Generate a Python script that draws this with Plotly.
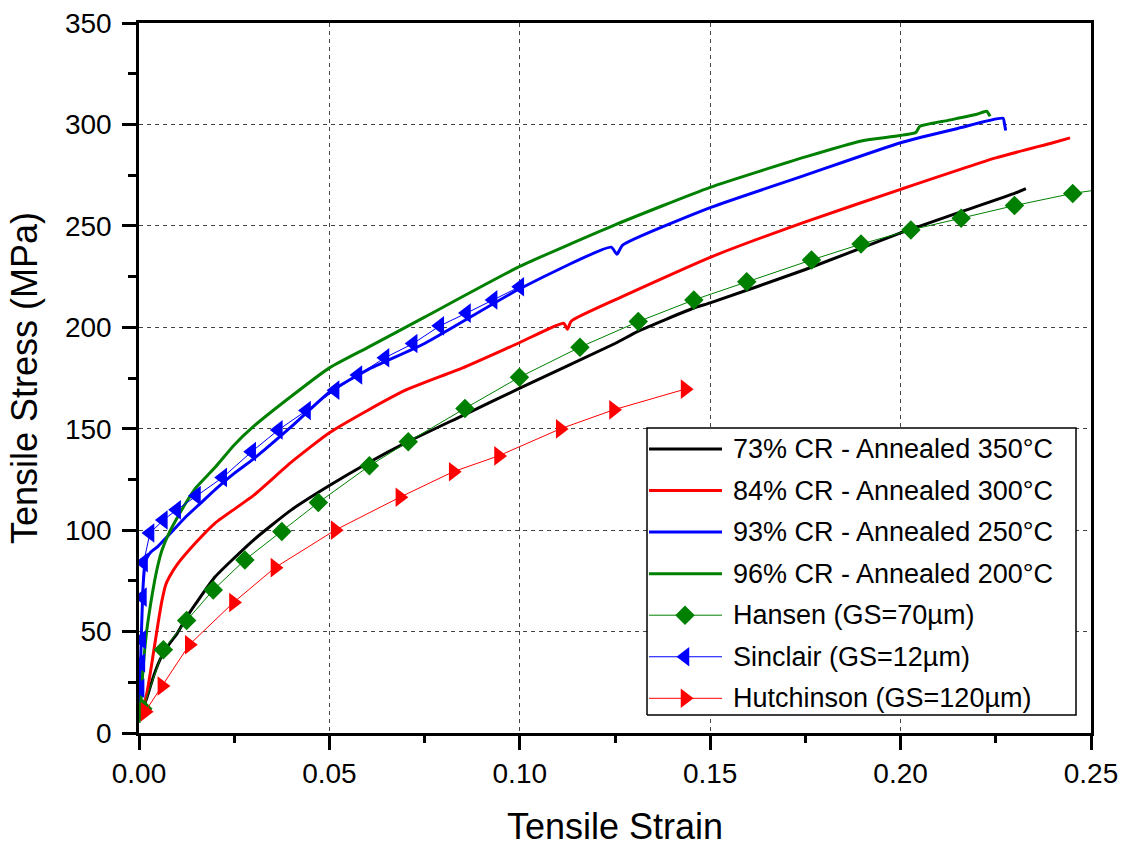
import plotly.graph_objects as go

# ---- experimental curves (strain, stress MPa) ----
cr73_x = [0, 0.001, 0.002, 0.004, 0.006, 0.008, 0.010, 0.0125, 0.015, 0.020, 0.030, 0.040, 0.050,
          0.060, 0.070, 0.085, 0.100, 0.125, 0.131, 0.1457, 0.150, 0.175, 0.200, 0.216, 0.2299, 0.2329]
cr73_y = [8, 12, 17, 29, 38, 44, 49, 57, 64, 77, 95, 110, 122,
          133, 143, 156.5, 170, 192, 198, 209.5, 212, 228.5, 246.5, 257, 266, 268.4]

cr84_x = [0, 0.001, 0.002, 0.003, 0.004, 0.005, 0.006, 0.007, 0.008, 0.010, 0.015, 0.020, 0.030,
          0.040, 0.050, 0.060, 0.070, 0.085, 0.100, 0.1115, 0.1125, 0.1135, 0.125, 0.150, 0.175,
          0.200, 0.225, 0.240, 0.2445]
cr84_y = [6, 12, 19, 30, 42, 54, 65, 73, 77, 83, 94, 103.5, 117,
          133.5, 148, 159, 169, 180, 192.5, 202, 199, 203, 213.5, 234.5, 252,
          268, 283.5, 291, 293.4]

cr93_x = [0, 0.0005, 0.001, 0.0015, 0.002, 0.003, 0.005, 0.007, 0.009, 0.012, 0.016, 0.020, 0.025,
          0.030, 0.040, 0.050, 0.060, 0.075, 0.100, 0.124, 0.1255, 0.127, 0.150, 0.175, 0.200,
          0.215, 0.2269, 0.2273, 0.2276]
cr93_y = [8, 40, 70, 82, 86, 89, 92, 96, 100, 106, 113, 120, 128,
          135, 151, 168, 179, 192, 219, 239.5, 236, 240.5, 259, 275, 291,
          298, 303, 300, 297]

cr96_x = [0, 0.0005, 0.001, 0.002, 0.003, 0.004, 0.005, 0.006, 0.008, 0.010, 0.0125, 0.015, 0.020,
          0.025, 0.030, 0.040, 0.050, 0.060, 0.075, 0.100, 0.125, 0.150, 0.175, 0.190, 0.204,
          0.205, 0.2125, 0.220, 0.2226, 0.2235]
cr96_y = [5, 15, 30, 50, 63, 74, 83, 90, 99, 106, 114, 121, 131,
          142, 151, 166, 180, 190, 205, 230, 250.5, 269, 284, 292, 296,
          299, 302, 305, 306.5, 304]

# ---- literature data ----
hansen_x = [0.001, 0.0064, 0.0125, 0.0195, 0.0278, 0.0375, 0.0471, 0.0605, 0.0707, 0.0856, 0.0999,
            0.1158, 0.1311, 0.1457, 0.1596, 0.1766, 0.1896, 0.2027, 0.2159, 0.2299, 0.2452, 0.2600]
hansen_y = [12, 41, 55.4, 70.5, 85.3, 99.3, 113.6, 131.7, 143.6, 160, 175.4,
            190.2, 202.8, 213.5, 222.5, 233.2, 241, 248, 253.8, 260, 266, 270]

sinclair_x = [0.0003, 0.0005, 0.0007, 0.0009, 0.0012, 0.0029, 0.0064, 0.0099, 0.0151, 0.022, 0.0296,
              0.0366, 0.044, 0.0515, 0.0575, 0.0646, 0.072, 0.079, 0.086, 0.093, 0.100]
sinclair_y = [22, 34.5, 46, 67, 84, 98.6, 105, 110, 117, 126, 138.7,
              149.4, 159, 169, 176.5, 185, 192, 200.7, 207, 213.5, 220]

hutch_x = [0.0016, 0.006, 0.0132, 0.0248, 0.0357, 0.0515, 0.0685, 0.0825, 0.0944, 0.1106, 0.1246, 0.1434]
hutch_y = [10.5, 23.2, 43.5, 64.3, 81.5, 100, 116.2, 128.8, 136.6, 149.9, 159.3, 169.5]

names = ["73% CR - Annealed 350°C", "84% CR - Annealed 300°C", "93% CR - Annealed 250°C",
         "96% CR - Annealed 200°C", "Hansen (GS=70µm)", "Sinclair (GS=12µm)", "Hutchinson (GS=120µm)"]

FONT = "Liberation Sans, Arial, sans-serif"
GREEN = "#008000"
RED = "#FF0000"
BLUE = "#0000FF"

W, H = 1128, 847
# plot-area geometry in page pixels
PL, PR, PT, PB = 139, 1091, 23, 733
def px2x(px):
    return (px - PL) / (PR - PL)
def py2y(py):
    return (PB - py) / (PB - PT)

fig = go.Figure()
styles = [
    dict(color="#000000", width=3, symbol=None, size=0),
    dict(color=RED, width=3, symbol=None, size=0),
    dict(color=BLUE, width=3, symbol=None, size=0),
    dict(color=GREEN, width=3, symbol=None, size=0),
    dict(color=GREEN, width=1, symbol="diamond", size=15),
    dict(color=BLUE, width=1, symbol="triangle-left", size=17),
    dict(color=RED, width=1, symbol="triangle-right", size=17),
]
series = [(cr73_x, cr73_y), (cr84_x, cr84_y), (cr93_x, cr93_y), (cr96_x, cr96_y),
          (hansen_x, hansen_y), (sinclair_x, sinclair_y), (hutch_x, hutch_y)]

for (xs, ys), st, nm in zip(series, styles, names):
    if st["symbol"] is None:
        fig.add_trace(go.Scatter(x=xs, y=ys, mode="lines", name=nm, showlegend=False,
                                 line=dict(color=st["color"], width=st["width"],
                                           shape="spline", smoothing=0.5)))
    else:
        fig.add_trace(go.Scatter(x=xs, y=ys, mode="lines+markers", name=nm, showlegend=False,
                                 line=dict(color=st["color"], width=st["width"]),
                                 marker=dict(color=st["color"], symbol=st["symbol"], size=st["size"],
                                             line=dict(width=0))))

# ---- legend drawn on an overlay axis in plot-fraction coordinates ----
bx0, bx1, by0, by1 = px2x(647), px2x(1076), py2y(715), py2y(428)
fig.add_trace(go.Scatter(x=[bx0, bx1, bx1, bx0, bx0], y=[by0, by0, by1, by1, by0],
                         mode="lines", fill="toself", fillcolor="white",
                         line=dict(color="black", width=1.5), xaxis="x2", yaxis="y2",
                         showlegend=False, hoverinfo="skip"))
row0, step = 449.0, 41.55
lx0, lx1, mx, tx = px2x(649), px2x(722), px2x(685), px2x(731)
for k, (st, nm) in enumerate(zip(styles, names)):
    yy = py2y(row0 + k * step)
    fig.add_trace(go.Scatter(x=[lx0, lx1], y=[yy, yy], mode="lines", xaxis="x2", yaxis="y2",
                             line=dict(color=st["color"], width=st["width"]),
                             showlegend=False, hoverinfo="skip"))
    if st["symbol"] is not None:
        fig.add_trace(go.Scatter(x=[mx], y=[yy], mode="markers", xaxis="x2", yaxis="y2",
                                 marker=dict(color=st["color"], symbol=st["symbol"], size=st["size"],
                                             line=dict(width=0)),
                                 showlegend=False, hoverinfo="skip"))
    fig.add_annotation(x=tx, y=yy, xref="paper", yref="paper", text=nm, showarrow=False,
                       xanchor="left", yanchor="middle",
                       font=dict(family=FONT, size=27, color="black"))

def axis_common():
    return dict(
        showline=True, linecolor="black", linewidth=2.5, mirror=True,
        ticks="outside", ticklen=14, tickwidth=2.5, tickcolor="black",
        showgrid=True, gridcolor="#444444", gridwidth=1, griddash="4px,4px",
        zeroline=False, automargin=False, ticklabeloverflow="allow",
        tickfont=dict(family=FONT, size=28, color="black"),
    )

xaxis = axis_common()
xaxis.update(range=[0, 0.25], dtick=0.05, tick0=0, tickformat=".2f",
             minor=dict(ticks="outside", ticklen=7, tickwidth=2.5, dtick=0.025, showgrid=False,
                        tickcolor="black"),
             title=dict(text="Tensile Strain", font=dict(family=FONT, size=36, color="black"),
                        standoff=27))
yaxis = axis_common()
yaxis.update(range=[0, 350], dtick=50, tick0=0, ticklabelstandoff=5,
             minor=dict(ticks="outside", ticklen=8, tickwidth=2.5, dtick=25, showgrid=False,
                        tickcolor="black"),
             title=dict(text="Tensile Stress (MPa)", font=dict(family=FONT, size=36, color="black"),
                        standoff=17))

fig.update_layout(
    xaxis=xaxis, yaxis=yaxis,
    xaxis2=dict(overlaying="x", range=[0, 1], visible=False, fixedrange=True),
    yaxis2=dict(overlaying="y", range=[0, 1], visible=False, fixedrange=True),
    width=W, height=H,
    margin=dict(l=PL, r=W - PR, t=PT, b=H - PB),
    plot_bgcolor="white", paper_bgcolor="white",
    font=dict(family=FONT, color="black"),
    showlegend=False,
)

# remove the browser's default 8px body margin so the figure sits at the page origin
fig.write_html("out.html", config={"displayModeBar": False},
               post_script="document.body.style.margin='0';document.body.style.overflow='hidden';")
